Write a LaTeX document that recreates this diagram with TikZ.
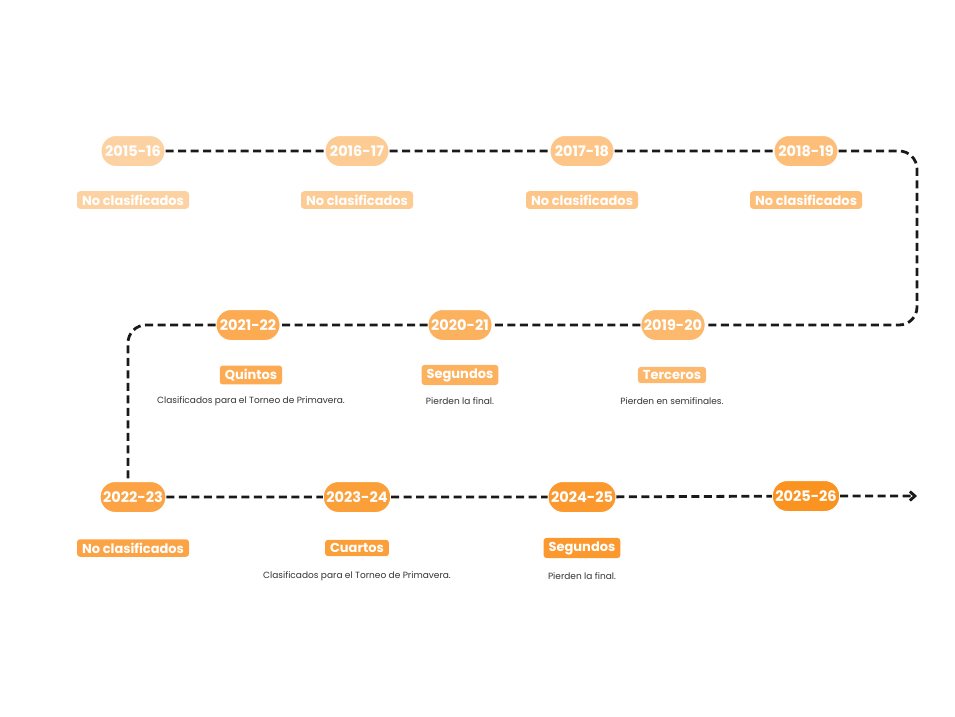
\documentclass[tikz,border=0pt]{standalone}
\usepackage{fontspec}
\setmainfont{Poppins}
\usepackage{tikz}
\usetikzlibrary{arrows.meta,calc}

\definecolor{tangerine}{HTML}{FB9321}
\definecolor{inkgray}{HTML}{333333}

\tikzset{
    season/.style={fill=tangerine!#1, draw=white, line width=1pt, rounded corners=15pt,
        minimum width=64pt, minimum height=31pt, inner xsep=3pt,
        text=white, font=\fontsize{14.5}{14.5}\selectfont\bfseries},
    result/.style={fill=tangerine!#1, rounded corners=3pt, inner xsep=5pt, inner ysep=3.5pt,
        text=white, font=\fontsize{13}{13}\selectfont\bfseries},
    note/.style={text=inkgray, font=\fontsize{9}{9}\selectfont},
    dashline/.style={line width=2.8pt, black!90, dash pattern=on 8pt off 4.5pt, rounded corners=18pt}
}

\begin{document}
\begin{tikzpicture}[x=1pt, y=-1pt]
        \useasboundingbox (0,0) rectangle (955,716);

        % first row
        \node[season=42] (s1516) at (133,151) {2015-16};
        \node[season=48] (s1617) at (357,151) {2016-17};
        \node[season=54] (s1718) at (582,151) {2017-18};
        \node[season=60] (s1819) at (806,151) {2018-19};
        \foreach \x/\c/\n in {133/42/a, 357/48/b, 582/54/c, 806/60/d} {
            \node[result=\c] (r1\n) at (\x,200) {No clasificados};
        }

        % second row
        \node[season=66] (s1920) at (673,325) {2019-20};
        \node[season=72] (s2021) at (460,325) {2020-21};
        \node[season=78] (s2122) at (248,325) {2021-22};
        \node[result=66] (r1920) at (672,375) {Terceros};
        \node[result=72] (r2021) at (460,375) {Segundos};
        \node[result=78] (r2122) at (251,375) {Quintos};
        \node[note] (n1920) at (672,401) {Pierden en semifinales.};
        \node[note] (n2021) at (460,401) {Pierden la final.};
        \node[note] (n2122) at (251,401) {Clasificados para el Torneo de Primavera.};

        % third row
        \node[season=84] (s2223) at (133,497) {2022-23};
        \node[season=89] (s2324) at (357,497) {2023-24};
        \node[season=94] (s2425) at (582,497) {2024-25};
        \node[season=100] (s2526) at (806,496) {2025-26};
        \node[result=84] (r2223) at (133,548) {No clasificados};
        \node[result=89] (r2324) at (357,548) {Cuartos};
        \node[result=94] (r2425) at (582,548) {Segundos};
        \node[note] (n2324) at (357,576) {Clasificados para el Torneo de Primavera.};
        \node[note] (n2425) at (582,576) {Pierden la final.};

        \coordinate (turnA) at (917,151);
        \coordinate (turnB) at (917,325);
        \coordinate (turnC) at (128,325);
        \coordinate (arrowEnd) at (917,496);

        \draw[dashline] (s1516) -- (s1617) -- (s1718) -- (s1819) -- (turnA) -- (turnB)
            -- (s1920) -- (s2021) -- (s2122) -- (turnC) -- (turnC |- s2223.north);
        \draw[dashline, -{Straight Barb[length=5pt, width=9pt]}] (s2223) -- (s2324) -- (s2425) -- (s2526) -- (arrowEnd);
    \end{tikzpicture}
\end{document}
